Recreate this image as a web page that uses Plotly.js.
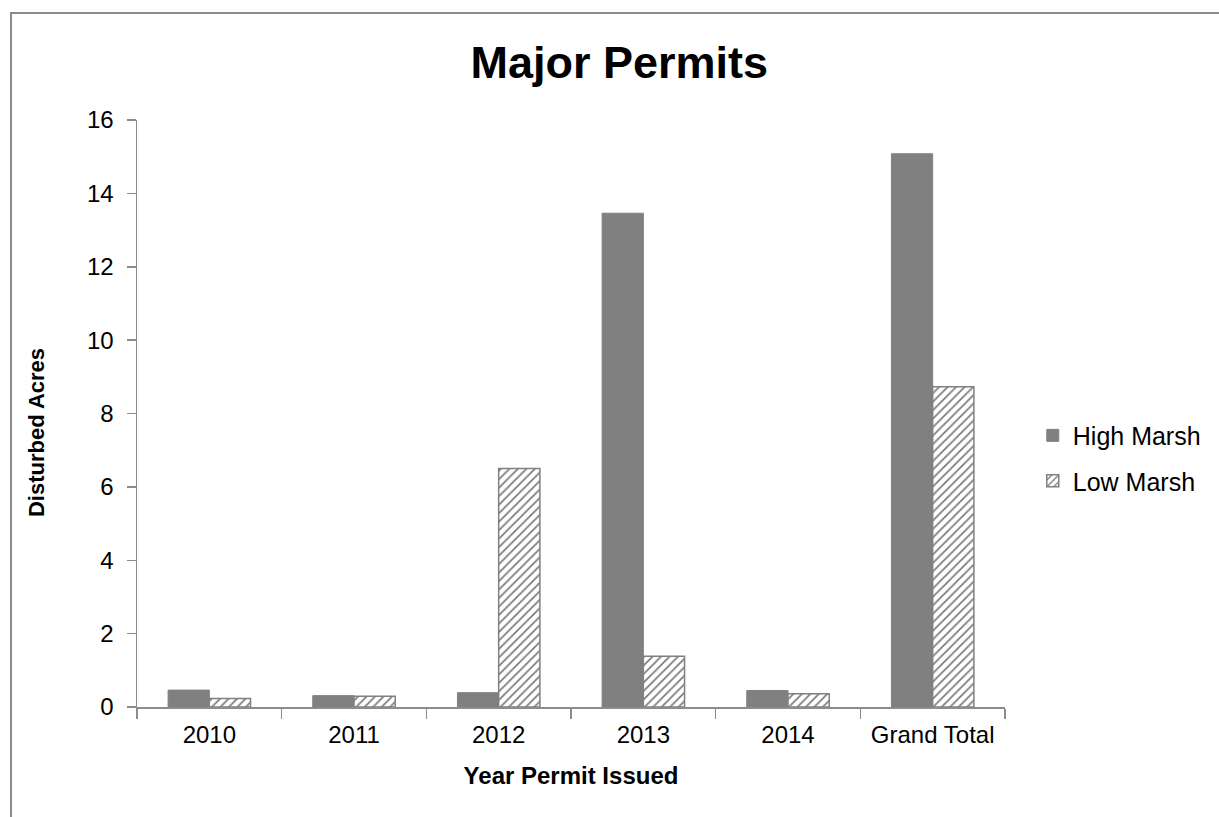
<!DOCTYPE html>
<html>
<head>
<meta charset="utf-8">
<script src="https://cdn.plot.ly/plotly-3.0.1.min.js"></script>
<style>
  html, body { margin: 0; padding: 0; background: #fff; }
  #wrap { position: relative; width: 1219px; height: 817px; overflow: hidden; }
  #frame { position: absolute; left: 10px; top: 12px; width: 1230px; height: 830px; border: 2px solid #8c8c8c; box-sizing: border-box; pointer-events: none; z-index: 5; }
  #chart { position: absolute; left: 0; top: 0; width: 1219px; height: 817px; }
</style>
</head>
<body>
<div id="wrap">
  <div id="chart"></div>
  <div id="frame"></div>
</div>
<script>
const categories = ["2010", "2011", "2012", "2013", "2014", "Grand Total"];
const highMarsh = [0.46, 0.31, 0.39, 13.46, 0.45, 15.08];
const lowMarsh = [0.23, 0.29, 6.50, 1.38, 0.36, 8.73];
const seriesNames = ["High Marsh", "Low Marsh"];
const yTicks = [0, 2, 4, 6, 8, 10, 12, 14, 16];
const yTitle = "Disturbed Acres";
const xTitle = "Year Permit Issued";
const chartTitle = "Major Permits";

const font = "Arial, 'Liberation Sans', sans-serif";

const traces = [
  {
    type: "bar", name: seriesNames[0], x: categories, y: highMarsh, legendgroup: "a",
    marker: { color: "#808080", line: { color: "#808080", width: 1 } }
  },
  {
    type: "bar", name: seriesNames[1], x: categories, y: lowMarsh, legendgroup: "b",
    marker: {
      color: "#ffffff",
      line: { color: "#808080", width: 1.5 },
      pattern: { shape: "/", fgcolor: "#7a7a7a", bgcolor: "#ffffff", size: 6, solidity: 0.28 }
    }
  }
];

const layout = {
  width: 1219, height: 817,
  margin: { l: 137, r: 214, t: 120, b: 110 },
  paper_bgcolor: "#ffffff", plot_bgcolor: "#ffffff",
  font: { family: font, color: "#000000", size: 24 },
  title: { text: "<b>" + chartTitle + "</b>", font: { family: font, size: 45, color: "#000" }, x: 0.508, xref: "container", y: 0.924, yref: "container", xanchor: "center", yanchor: "middle" },
  barmode: "group",
  bargap: 0.43, bargroupgap: 0,
  showlegend: true,
  legend: { x: 1.032, xanchor: "left", y: 0.424, yanchor: "middle", font: { family: font, size: 25 }, tracegroupgap: 10, itemwidth: 30 },
  xaxis: {
    type: "category",
    showgrid: false, zeroline: false,
    showline: true, linecolor: "#8c8c8c", linewidth: 1.5,
    ticks: "outside", tickson: "boundaries", ticklen: 10, tickcolor: "#8c8c8c", tickwidth: 1.5,
    ticklabelstandoff: 6,
    tickfont: { family: font, size: 24 },
    title: { text: "<b>" + xTitle + "</b>", font: { family: font, size: 24 }, standoff: 20 }
  },
  yaxis: {
    range: [0, 16], tickvals: yTicks, ticktext: yTicks.map(String),
    showgrid: false, zeroline: false,
    showline: true, linecolor: "#8c8c8c", linewidth: 1.5,
    ticks: "outside", ticklen: 9, tickcolor: "#8c8c8c", tickwidth: 1.5,
    ticklabelstandoff: 8,
    tickfont: { family: font, size: 24 }
  },
  annotations: [{
    text: "<b>" + yTitle + "</b>", textangle: -90, showarrow: false,
    xref: "paper", yref: "paper", x: -0.115, y: 0.467, xanchor: "center", yanchor: "middle",
    font: { family: font, size: 22, color: "#000" }
  }]
};

Plotly.newPlot("chart", traces, layout, { displayModeBar: false, staticPlot: true });
</script>
</body>
</html>
